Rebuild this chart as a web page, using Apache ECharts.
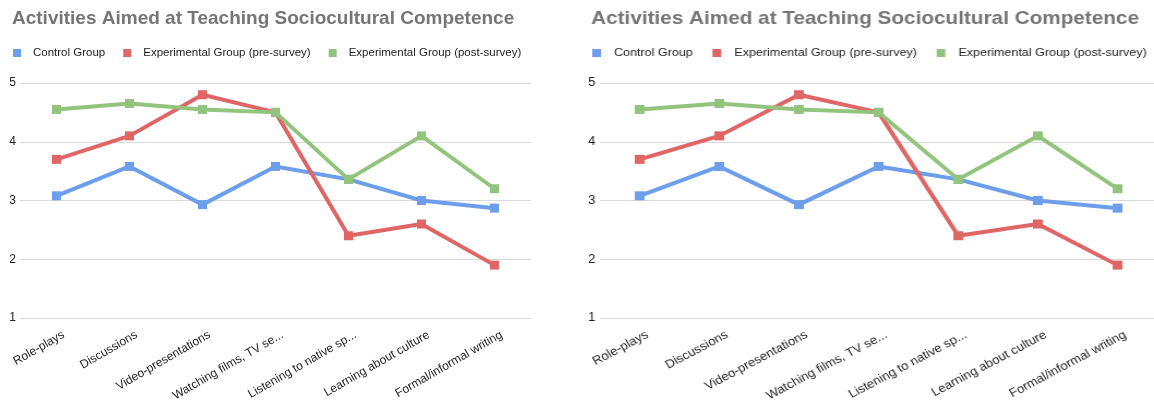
<!DOCTYPE html>
<html>
<head>
<meta charset="utf-8">
<title>Activities Aimed at Teaching Sociocultural Competence</title>
<script src="https://cdn.jsdelivr.net/npm/echarts@6/dist/echarts.min.js"></script>
<style>
    html, body {margin:0; padding:0; background:#fff; overflow:hidden;}
    body {width:1154px; height:414px; position:relative;}
    .chart {position:absolute; top:0; width:560px; height:414px;}
    #left {left:0;}
    /* the second copy is a bit wider in the picture */
    #right {left:578px; transform:scaleX(1.091); transform-origin:0 0;}
</style>
</head>
<body>
<div class="chart" id="left"></div>
<div class="chart" id="right"></div>
<script>
var titleText = 'Activities Aimed at Teaching Sociocultural Competence'
var categories = ['Role-plays', 'Discussions', 'Video-presentations', 'Watching films, TV se...',
    'Listening to native sp...', 'Learning about culture', 'Formal/informal writing']
var seriesNames = ['Control Group', 'Experimental Group (pre-survey)', 'Experimental Group (post-survey)']
var controlGroup = [3.08, 3.58, 2.93, 3.58, 3.36, 3.0, 2.87]
var preSurvey = [3.7, 4.1, 4.8, 4.5, 2.4, 2.6, 1.9]
var postSurvey = [4.55, 4.65, 4.55, 4.5, 3.36, 4.1, 3.2]
var yTicks = [1, 2, 3, 4, 5]
var colors = ['#6d9eeb', '#e06666', '#93c47d']
var font = '"Liberation Sans", Arial, sans-serif'

var getOption = function(){
    var data = [controlGroup, preSurvey, postSurvey]
    var option = {
        animation: false,
        color: colors,
        title: {
            text: titleText,
            left: 7,
            top: 4,
            textStyle: {
                fontFamily: font,
                fontSize: 19,
                fontWeight: 'bold',
                color: '#757575'
            }
        },
        legend: {
            left: 8,
            top: 42,
            icon: 'rect',
            itemWidth: 8,
            itemHeight: 8,
            itemGap: 18,
            data: seriesNames,
            textStyle: {
                fontFamily: font,
                fontSize: 11.5,
                color: '#222',
                padding: [0, 0, 0, 7]
            }
        },
        // second grid only carries the slanted labels, nudged right like the original
        grid: [
            {left: 20, right: 29, top: 83, bottom: 96},
            {left: 27, right: 22, top: 83, bottom: 96}
        ],
        xAxis: [
            {
                type: 'category',
                data: categories,
                boundaryGap: true,
                axisLine: {show: false},
                axisTick: {show: false},
                axisLabel: {show: false}
            },
            {
                type: 'category',
                gridIndex: 1,
                data: categories,
                boundaryGap: true,
                axisLine: {show: false},
                axisTick: {show: false},
                axisLabel: {
                    interval: 0,
                    rotate: 30,
                    margin: 16,
                    fontFamily: font,
                    fontSize: 12,
                    color: '#222'
                }
            }
        ],
        yAxis: [
            {
                type: 'value',
                min: yTicks[0],
                max: yTicks[yTicks.length - 1],
                interval: 1,
                axisLine: {show: false},
                axisTick: {show: false},
                axisLabel: {
                    margin: 4,
                    fontFamily: font,
                    fontSize: 12,
                    color: '#222'
                },
                splitLine: {lineStyle: {color: '#d9d9d9', width: 1}}
            },
            {
                type: 'value',
                gridIndex: 1,
                min: yTicks[0],
                max: yTicks[yTicks.length - 1],
                interval: 1,
                show: false,
                splitLine: {show: false}
            }
        ],
        series: []
    }
    for(var k = 0; k < data.length; k++){
        option.series.push({
            name: seriesNames[k],
            type: 'line',
            data: data[k],
            symbol: 'rect',
            symbolSize: 9,
            lineStyle: {width: 4},
            itemStyle: {color: colors[k]}
        })
    }
    return option
}

var left = echarts.init(document.getElementById('left'))
left.setOption(getOption())
var right = echarts.init(document.getElementById('right'))
right.setOption(getOption())
</script>
</body>
</html>
